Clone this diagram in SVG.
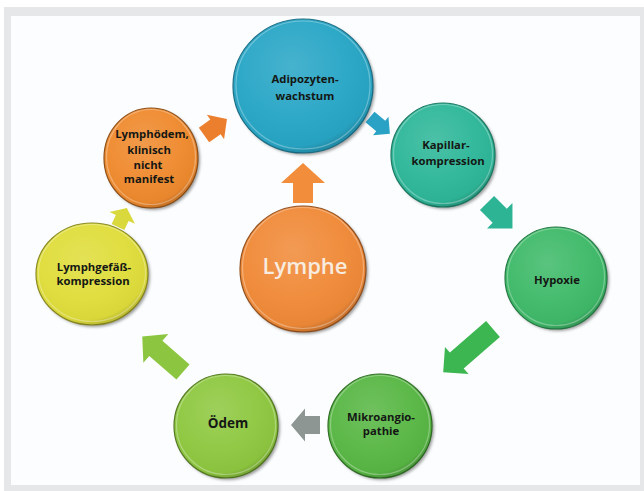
<svg xmlns="http://www.w3.org/2000/svg" width="644" height="491" viewBox="0 0 644 491">
<defs>
<radialGradient id="gloss" cx="42%" cy="35%" r="65%">
<stop offset="0" stop-color="#ffffff" stop-opacity="0.14"/>
<stop offset="0.6" stop-color="#ffffff" stop-opacity="0.03"/>
<stop offset="0.92" stop-color="#000000" stop-opacity="0.03"/>
<stop offset="1" stop-color="#000000" stop-opacity="0.15"/>
</radialGradient>
<filter id="sh" x="-20%" y="-20%" width="140%" height="140%">
<feGaussianBlur stdDeviation="1.5"/>
</filter>
</defs>
<style>
.lbl{font-family:"Open Sans","Noto Sans","Liberation Sans",sans-serif;font-weight:bold;font-size:11.3px;fill:#141714;text-anchor:middle}
.shadow{fill:#3a3a3a;opacity:0.5;filter:url(#sh)}
.rim{fill:none;stroke:#ffffff;stroke-opacity:0.3;stroke-width:1.2}
.gl{fill:url(#gloss)}
</style>
<rect x="0" y="0" width="644" height="491" fill="#ffffff"/>
<rect x="4" y="7" width="640" height="484" fill="#e6e7e9"/>
<rect x="11" y="16" width="629" height="469" fill="#fcfdfe"/>

<g id="connectors">
<path transform="translate(303,203) rotate(-90)" d="M0,-10 L20,-10 L20,-22 L40,0 L20,22 L20,10 L0,10 Z" fill="#f28d3c"/>
<path transform="translate(204,135) rotate(-35)" d="M0,-9 L14,-9 L14,-15 L28,0 L14,15 L14,9 L0,9 Z" fill="#ec7f2e"/>
<path transform="translate(370,117) rotate(40)" d="M0,-7 L14,-7 L14,-12 L26,0 L14,12 L14,7 L0,7 Z" fill="#2aa2c6"/>
<path transform="translate(487,203) rotate(45)" d="M0,-10 L18,-10 L18,-18 L36,0 L18,18 L18,10 L0,10 Z" fill="#2db494"/>
<path transform="translate(493,329) rotate(139)" d="M0,-10.5 L48,-10.5 L48,-18 L66,0 L48,18 L48,10.5 L0,10.5 Z" fill="#3cb650"/>
<path transform="translate(320,425) rotate(180)" d="M0,-9 L15,-9 L15,-16.5 L29,0 L15,16.5 L15,9 L0,9 Z" fill="#8d9692"/>
<path transform="translate(183,372) rotate(-139)" d="M0,-10 L36,-10 L36,-19 L54,0 L36,19 L36,10 L0,10 Z" fill="#8cc640"/>
<path transform="translate(118,227) rotate(-65)" d="M0,-7 L10,-7 L10,-14 L21,0 L10,14 L10,7 L0,7 Z" fill="#d9d83c"/>
</g>

<g id="adipozyten">
<ellipse class="shadow" cx="305" cy="88" rx="70" ry="67"/>
<ellipse cx="303" cy="86" rx="70" ry="67" fill="#28a6c6" stroke="#1b6f86" stroke-width="1.2"/>
<ellipse class="gl" cx="303" cy="86" rx="70" ry="67"/>
<ellipse class="rim" cx="303" cy="85" rx="67" ry="64"/>
<text class="lbl" x="305" y="83">Adipozyten-</text>
<text class="lbl" x="305" y="100">wachstum</text>
</g>

<g id="kapillar">
<circle class="shadow" cx="445" cy="157" r="52"/>
<circle cx="443" cy="155" r="52" fill="#2eb799" stroke="#1b7a63" stroke-width="1.2"/>
<circle class="gl" cx="443" cy="155" r="52"/>
<circle class="rim" cx="443" cy="154" r="49.5"/>
<text class="lbl" x="446" y="149">Kapillar-</text>
<text class="lbl" x="448" y="165">kompression</text>
</g>

<g id="hypoxie">
<circle class="shadow" cx="558" cy="280" r="51"/>
<circle cx="556" cy="278" r="51" fill="#3fba69" stroke="#237a43" stroke-width="1.2"/>
<circle class="gl" cx="556" cy="278" r="51"/>
<circle class="rim" cx="556" cy="277" r="48.5"/>
<text class="lbl" x="557" y="284">Hypoxie</text>
</g>

<g id="mikroangiopathie">
<circle class="shadow" cx="382" cy="428" r="52"/>
<circle cx="380" cy="426" r="52" fill="#58b744" stroke="#2f6e24" stroke-width="1.2"/>
<circle class="gl" cx="380" cy="426" r="52"/>
<circle class="rim" cx="380" cy="425" r="49.5"/>
<text class="lbl" x="381" y="421">Mikroangio-</text>
<text class="lbl" x="381" y="435">pathie</text>
</g>

<g id="oedem">
<circle class="shadow" cx="228" cy="428" r="52"/>
<circle cx="226" cy="426" r="52" fill="#8ec840" stroke="#557a22" stroke-width="1.2"/>
<circle class="gl" cx="226" cy="426" r="52"/>
<circle class="rim" cx="226" cy="425" r="49.5"/>
<text class="lbl" x="228" y="428" style="font-size:13.5px">Ödem</text>
</g>

<g id="lymphgefaess">
<ellipse class="shadow" cx="94" cy="276" rx="56" ry="51"/>
<ellipse cx="92" cy="274" rx="56" ry="51" fill="#dfdd3a" stroke="#8a8a22" stroke-width="1.2"/>
<ellipse class="gl" cx="92" cy="274" rx="56" ry="51"/>
<ellipse class="rim" cx="92" cy="273" rx="53.5" ry="48.5"/>
<text class="lbl" x="94" y="271">Lymphgefäß-</text>
<text class="lbl" x="93" y="285">kompression</text>
</g>

<g id="lymphoedem">
<ellipse class="shadow" cx="153" cy="160" rx="47" ry="50"/>
<ellipse cx="151" cy="158" rx="47" ry="50" fill="#ef8a2e" stroke="#8e4f17" stroke-width="1.2"/>
<ellipse class="gl" cx="151" cy="158" rx="47" ry="50"/>
<ellipse class="rim" cx="151" cy="157" rx="44.5" ry="47.5"/>
<text class="lbl" x="152" y="138">Lymphödem,</text>
<text class="lbl" x="149" y="154">klinisch</text>
<text class="lbl" x="148" y="169">nicht</text>
<text class="lbl" x="149" y="183">manifest</text>
</g>

<g id="lymphe">
<ellipse class="shadow" cx="305" cy="271" rx="63" ry="63"/>
<ellipse cx="303" cy="269" rx="63" ry="63" fill="#f08a38" stroke="#94501c" stroke-width="1.2"/>
<ellipse class="gl" cx="303" cy="269" rx="63" ry="63"/>
<ellipse class="rim" cx="303" cy="268" rx="60.5" ry="60.5"/>
<text x="305" y="274" style="font-family:'Open Sans','Noto Sans','Liberation Sans',sans-serif;font-weight:600;font-size:22px;fill:#f8ece0;text-anchor:middle">Lymphe</text>
</g>
</svg>
